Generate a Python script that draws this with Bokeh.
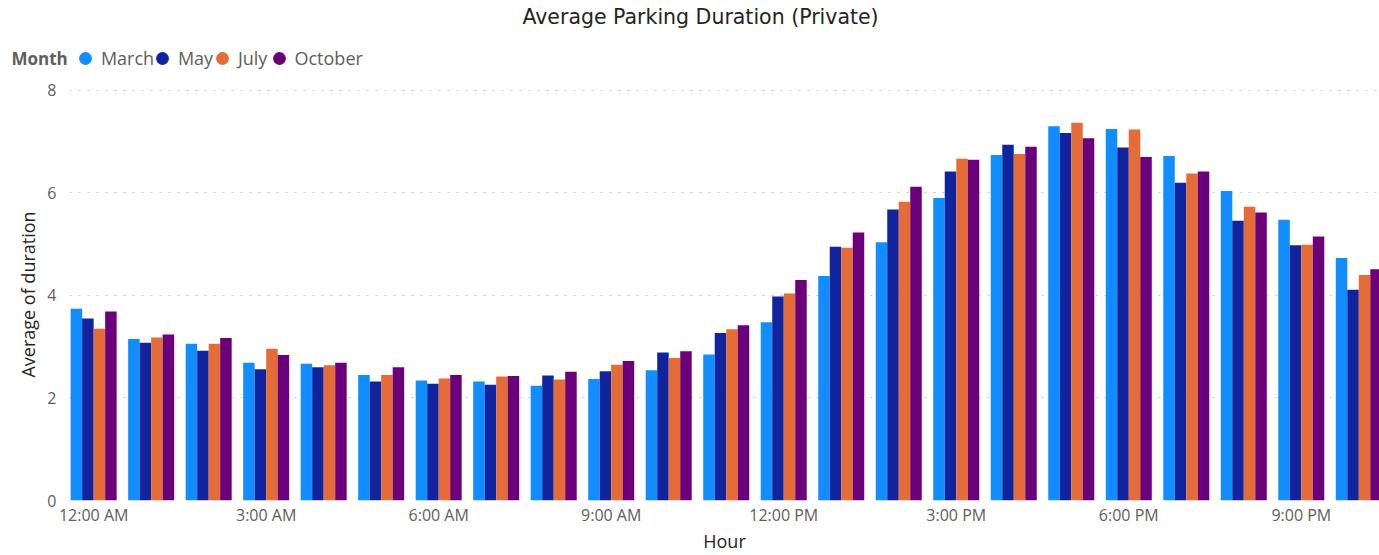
from bokeh.plotting import figure
from bokeh.models import (ColumnDataSource, Range1d, FixedTicker, Legend,
                          LegendItem, Label)
from bokeh.layouts import column
from bokeh.transform import dodge
from bokeh.embed import file_html
from bokeh.resources import INLINE

# ---- data ----
hours = list(range(23))
march = [3.74, 3.15, 3.06, 2.69, 2.67, 2.45, 2.34, 2.32, 2.24, 2.37, 2.54, 2.85,
         3.48, 4.38, 5.04, 5.90, 6.74, 7.30, 7.25, 6.72, 6.04, 5.48, 4.73]
may = [3.55, 3.08, 2.92, 2.56, 2.60, 2.32, 2.28, 2.26, 2.44, 2.52, 2.89, 3.27,
       3.98, 4.95, 5.68, 6.42, 6.94, 7.17, 6.89, 6.20, 5.46, 4.98, 4.11]
july = [3.35, 3.18, 3.06, 2.96, 2.64, 2.45, 2.38, 2.42, 2.36, 2.65, 2.78, 3.34,
        4.04, 4.93, 5.83, 6.67, 6.76, 7.37, 7.24, 6.38, 5.73, 4.99, 4.40]
october = [3.69, 3.24, 3.17, 2.84, 2.69, 2.60, 2.45, 2.43, 2.51, 2.72, 2.91, 3.42,
           4.30, 5.23, 6.12, 6.65, 6.90, 7.07, 6.70, 6.42, 5.62, 5.15, 4.51]
months = ["March", "May", "July", "October"]
colors = ["#118DFF", "#12239E", "#E66C37", "#6B007B"]
tick_hours = [0, 3, 6, 9, 12, 15, 18, 21]
tick_labels = ["12:00 AM", "3:00 AM", "6:00 AM", "9:00 AM",
               "12:00 PM", "3:00 PM", "6:00 PM", "9:00 PM"]
y_ticks = [0, 2, 4, 6, 8]

source = ColumnDataSource(dict(hour=hours, March=march, May=may,
                               July=july, October=october))

FONT = "Open Sans"
GREY = "#605E5C"
DARK = "#252423"
W = 1379
HEAD_H = 74
MAIN_H = 481

# ---------- header: title + legend (pixel coordinates) ----------
head = figure(width=W, height=HEAD_H, output_backend="svg", toolbar_location=None,
              x_range=Range1d(0, W), y_range=Range1d(0, HEAD_H),
              x_axis_location=None, y_axis_location=None, title=None,
              min_border=0, min_border_left=0, min_border_right=0,
              min_border_top=0, min_border_bottom=0)
head.frame_align = False
head.outline_line_color = None
head.xgrid.visible = False
head.ygrid.visible = False
head.border_fill_color = "white"

head.add_layout(Label(x=700, y=58, text="Average Parking Duration (Private)",
                      text_font="DejaVu Sans", text_font_size="20.5px",
                      text_color=DARK, text_align="center",
                      text_baseline="middle"))
head.add_layout(Label(x=11, y=16, text="Month", text_font=FONT,
                      text_font_size="17px", text_font_style="bold",
                      text_color=GREY, text_align="left",
                      text_baseline="middle"))

legend_x = [68.9, 145.9, 205.9, 262.5]
for name, col, lx in zip(months, colors, legend_x):
    r = head.scatter(x="hour", y=name, source=source, marker="circle", size=0,
                     fill_color=col, line_color=None)
    lg = Legend(items=[LegendItem(label=name, renderers=[r])],
                location=(lx, 0), orientation="horizontal",
                glyph_width=32, glyph_height=32, label_standoff=-8,
                padding=0, margin=0, spacing=0, border_line_color=None,
                background_fill_alpha=0, label_text_font=FONT,
                label_text_font_size="18px", label_text_color=GREY)
    head.add_layout(lg)

# ---------- main chart ----------
p = figure(width=W, height=MAIN_H, output_backend="svg", toolbar_location=None,
           x_range=Range1d(-0.42, 22.36), y_range=Range1d(0, 8.039),
           min_border_left=69, min_border_right=0, min_border_top=14,
           min_border_bottom=54, title=None)
p.frame_align = False
p.outline_line_color = None
p.background_fill_color = "white"
p.border_fill_color = "white"

offsets = [-0.3, -0.1, 0.1, 0.3]
for name, col, off in zip(months, colors, offsets):
    p.vbar(x=dodge("hour", off), top=name, width=0.2, bottom=0,
           source=source, fill_color=col, line_color=None)

p.xaxis.ticker = FixedTicker(ticks=tick_hours)
p.xaxis.major_label_overrides = {h: l for h, l in zip(tick_hours, tick_labels)}
p.xaxis.axis_label = "Hour"
p.yaxis.ticker = FixedTicker(ticks=y_ticks)
p.yaxis.axis_label = "Average of duration"
for ax in (p.xaxis, p.yaxis):
    ax.axis_line_color = None
    ax.major_tick_line_color = None
    ax.minor_tick_line_color = None
    ax.major_tick_out = 0
    ax.major_tick_in = 0
    ax.major_label_text_font = FONT
    ax.major_label_text_color = GREY
    ax.axis_label_text_font = FONT
    ax.axis_label_text_font_style = "normal"
    ax.axis_label_text_color = DARK
p.xaxis.major_label_text_font_size = "16px"
p.xaxis.axis_label_text_font_size = "18px"
p.yaxis.major_label_text_font_size = "16px"
p.yaxis.axis_label_text_font_size = "18px"
p.xaxis.major_label_standoff = 3
p.xaxis.axis_label_standoff = 0
p.yaxis.major_label_standoff = 13
p.yaxis.axis_label_standoff = 4

p.xgrid.grid_line_color = None
p.ygrid.ticker = FixedTicker(ticks=y_ticks)
p.ygrid.grid_line_color = "#C8C6C4"
p.ygrid.grid_line_dash = "2 7"
p.ygrid.grid_line_width = 1

layout = column(head, p, spacing=0)
open("out.html", "w").write(file_html(layout, INLINE))
